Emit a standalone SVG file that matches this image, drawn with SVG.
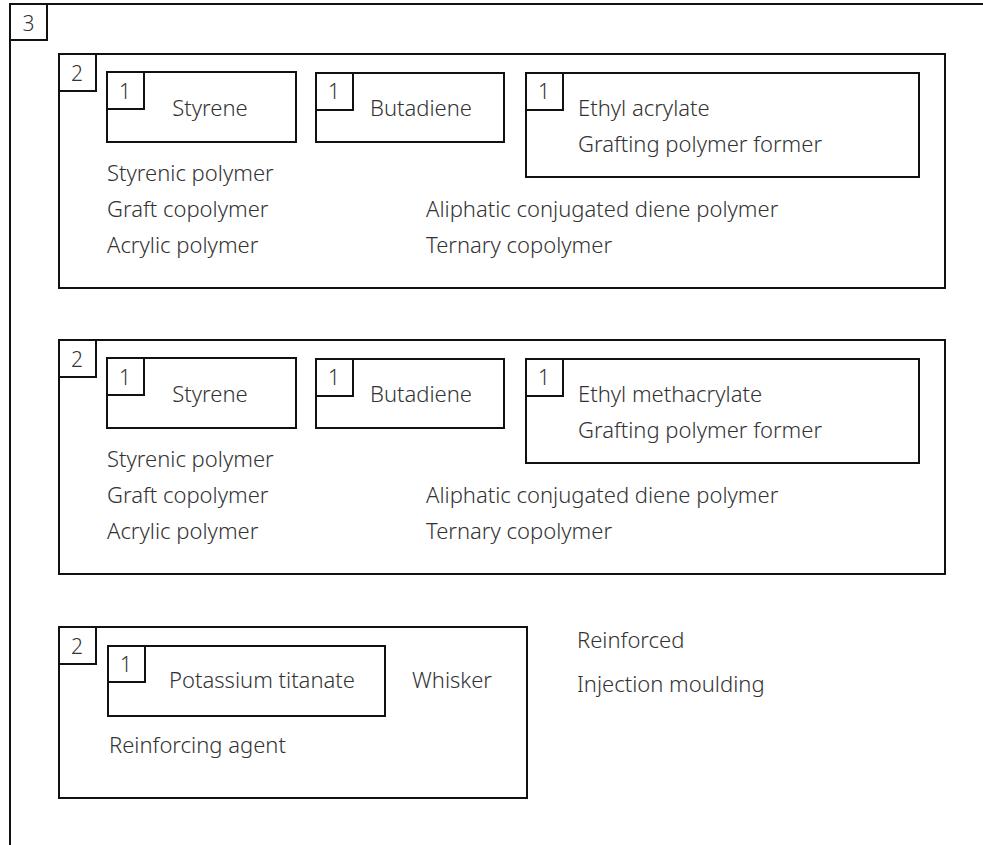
<svg xmlns="http://www.w3.org/2000/svg" width="983" height="845" viewBox="0 0 983 845">
<style>
.box{fill:none;stroke:#111;stroke-width:2}
.lbl{fill:#fff;stroke:#111;stroke-width:2}
text{font-family:"Noto Sans","Liberation Sans",sans-serif;font-weight:300;fill:#333;font-size:22px}
.num{font-size:21px;text-anchor:middle}
.c{text-anchor:middle}
</style>
<rect width="983" height="845" fill="#fff"/>
<g id="group3">
<rect class="box" x="10" y="4" width="1000" height="900"/>
<rect class="lbl" x="10" y="4" width="37" height="36"/>
<text class="num" x="28.5" y="31">3</text>
</g>
<g id="group2a">
<rect class="box" x="59" y="54" width="886" height="234"/>
<rect class="lbl" x="59" y="54" width="37" height="37"/>
<text class="num" x="77" y="81">2</text>
<text x="107" y="181">Styrenic polymer</text>
<text x="107" y="217">Graft copolymer</text>
<text x="107" y="253">Acrylic polymer</text>
<text x="426" y="217">Aliphatic conjugated diene polymer</text>
<text x="426" y="253">Ternary copolymer</text>
</g>
<g id="styrene1">
<rect class="box" x="107" y="72" width="189" height="70"/>
<rect class="lbl" x="107" y="72" width="37" height="37"/>
<text class="num" x="125" y="99">1</text>
<text class="c" x="210" y="116">Styrene</text>
</g>
<g id="butadiene1">
<rect class="box" x="316" y="73" width="188" height="69"/>
<rect class="lbl" x="316" y="73" width="37" height="37"/>
<text class="num" x="334" y="99">1</text>
<text class="c" x="421" y="116">Butadiene</text>
</g>
<g id="ethylacrylate">
<rect class="box" x="526" y="73" width="393" height="104"/>
<rect class="lbl" x="526" y="73" width="37" height="37"/>
<text class="num" x="544" y="99">1</text>
<text x="578" y="116">Ethyl acrylate</text>
<text x="578" y="152">Grafting polymer former</text>
</g>
<g id="group2b">
<rect class="box" x="59" y="340" width="886" height="234"/>
<rect class="lbl" x="59" y="340" width="37" height="37"/>
<text class="num" x="77" y="367">2</text>
<text x="107" y="467">Styrenic polymer</text>
<text x="107" y="503">Graft copolymer</text>
<text x="107" y="539">Acrylic polymer</text>
<text x="426" y="503">Aliphatic conjugated diene polymer</text>
<text x="426" y="539">Ternary copolymer</text>
</g>
<g id="styrene2">
<rect class="box" x="107" y="358" width="189" height="70"/>
<rect class="lbl" x="107" y="358" width="37" height="37"/>
<text class="num" x="125" y="385">1</text>
<text class="c" x="210" y="402">Styrene</text>
</g>
<g id="butadiene2">
<rect class="box" x="316" y="359" width="188" height="69"/>
<rect class="lbl" x="316" y="359" width="37" height="37"/>
<text class="num" x="334" y="385">1</text>
<text class="c" x="421" y="402">Butadiene</text>
</g>
<g id="ethylmethacrylate">
<rect class="box" x="526" y="359" width="393" height="104"/>
<rect class="lbl" x="526" y="359" width="37" height="37"/>
<text class="num" x="544" y="385">1</text>
<text x="578" y="402">Ethyl methacrylate</text>
<text x="578" y="438">Grafting polymer former</text>
</g>
<g id="group2c">
<rect class="box" x="59" y="627" width="468" height="171"/>
<rect class="lbl" x="59" y="627" width="37" height="37"/>
<text class="num" x="77" y="654">2</text>
<text x="412" y="688">Whisker</text>
<text x="109" y="753">Reinforcing agent</text>
</g>
<g id="potassium">
<rect class="box" x="108" y="646" width="277" height="70"/>
<rect class="lbl" x="108" y="646" width="37" height="36"/>
<text class="num" x="126" y="672">1</text>
<text class="c" x="262" y="688">Potassium titanate</text>
</g>
<g id="free">
<text x="577" y="648">Reinforced</text>
<text x="577" y="692">Injection moulding</text>
</g>
<g id="connectors"/>
</svg>
